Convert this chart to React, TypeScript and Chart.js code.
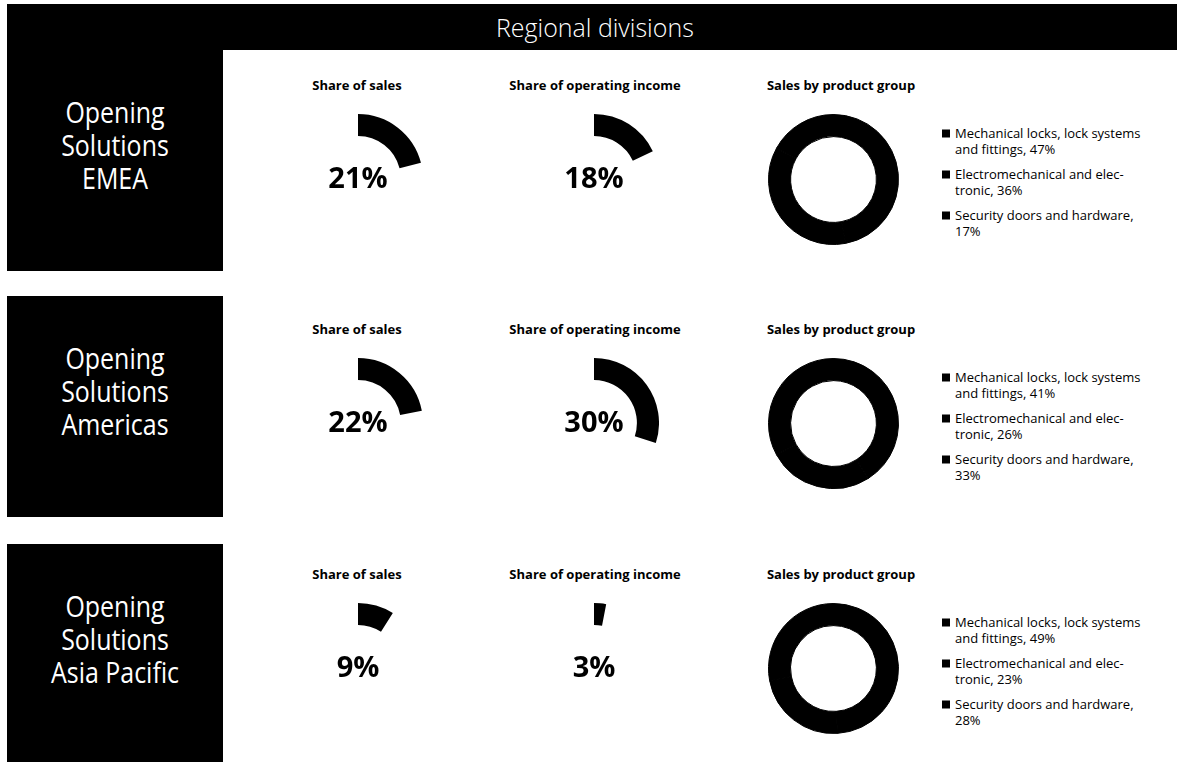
import React, { useEffect, useRef } from "react";
import { Chart, registerables } from "chart.js";

Chart.register(...registerables);

// ---- data ----
const pageTitle = "Regional divisions";
const divisionLines = [
  ["Opening", "Solutions", "EMEA"],
  ["Opening", "Solutions", "Americas"],
  ["Opening", "Solutions", "Asia Pacific"],
];
const panelTitles = ["Share of sales", "Share of operating income", "Sales by product group"];
const salesShare = [21, 22, 9];
const incomeShare = [18, 30, 3];
const productGroups = [
  "Mechanical locks, lock systems and fittings",
  "Electromechanical and elec\u00ADtronic",
  "Security doors and hardware",
];
const productSalesEMEA = [47, 36, 17];
const productSalesAmericas = [41, 26, 33];
const productSalesAsiaPacific = [49, 23, 28];
const productSales = [productSalesEMEA, productSalesAmericas, productSalesAsiaPacific];

// ---- layout ----
const FONT = '"Open Sans", "Noto Sans", sans-serif';
const R = 65;
const rowBoxTop = [50, 296, 544];
const rowCenterY = [179, 423, 668];
const gaugeX = [358, 594];
const donutX = 833;
const titleX = [357, 595, 841];

type RingProps = {
  values: number[];
  colors: string[];
  border: number;
  label?: string;
  cx: number;
  cy: number;
};

function RingChart({ values, colors, border, label, cx, cy }: RingProps) {
  const ref = useRef<HTMLCanvasElement>(null);
  useEffect(() => {
    if (!ref.current) return;
    const labelPlugin = {
      id: "centerLabel",
      afterDraw(chart: any) {
        if (!label) return;
        const arc: any = chart.getDatasetMeta(0).data[0];
        const ctx = chart.ctx;
        ctx.save();
        ctx.font = `bold 29px ${FONT}`;
        ctx.fillStyle = "#000";
        ctx.textAlign = "center";
        ctx.textBaseline = "alphabetic";
        ctx.fillText(label, arc.x, arc.y + 9.4);
        ctx.restore();
      },
    };
    const chart = new Chart(ref.current, {
      type: "doughnut",
      data: {
        labels: values.map((_, i) => String(i)),
        datasets: [
          {
            data: values,
            backgroundColor: colors,
            borderColor: colors,
            borderWidth: border,
            hoverOffset: 0,
          },
        ],
      },
      options: {
        animation: false,
        responsive: true,
        maintainAspectRatio: false,
        cutout: "66%",
        events: [],
        layout: { padding: 0 },
        plugins: { legend: { display: false }, tooltip: { enabled: false } },
      },
      plugins: [labelPlugin],
    } as any);
    return () => chart.destroy();
  }, []);
  const size = 2 * R + border;
  return (
    <div style={{ position: "absolute", left: cx - size / 2, top: cy - size / 2, width: size, height: size }}>
      <canvas ref={ref} />
    </div>
  );
}

function Legend({ values, cy }: { values: number[]; cy: number }) {
  return (
    <div
      style={{
        position: "absolute",
        left: 942,
        top: cy + 3,
        transform: "translateY(-50%)",
        fontFamily: FONT,
        fontSize: 13,
        lineHeight: "15.5px",
        color: "#000",
      }}
    >
      {productGroups.map((g, i) => (
        <div key={i} style={{ display: "flex", marginBottom: i < productGroups.length - 1 ? 10 : 0 }}>
          <div style={{ width: 8, height: 8, background: "#000", marginTop: 4, marginRight: 5, flex: "none" }} />
          <div style={{ width: 195 }}>{`${g}, ${values[i]}%`}</div>
        </div>
      ))}
    </div>
  );
}

function Title({ text, x, y }: { text: string; x: number; y: number }) {
  return (
    <div
      style={{
        position: "absolute",
        left: x,
        top: y,
        transform: "translate(-50%, -50%)",
        whiteSpace: "nowrap",
        fontFamily: FONT,
        fontWeight: 700,
        fontSize: 13,
        lineHeight: 1,
        color: "#000",
      }}
    >
      {text}
    </div>
  );
}

export default function App() {
  return (
    <div
      style={{
        position: "absolute",
        left: 0,
        top: 0,
        width: 1178,
        height: 762,
        overflow: "hidden",
        background: "#fff",
        fontFamily: FONT,
      }}
    >
      <div
        style={{
          position: "absolute",
          left: 7,
          top: 4,
          width: 1170,
          height: 46,
          background: "#000",
          color: "#fff",
          textAlign: "center",
          lineHeight: "46px",
          fontSize: 26,
          fontWeight: 300,
        }}
      >
        <span style={{ display: "inline-block", transform: "scaleX(0.96)", paddingLeft: 6 }}>{pageTitle}</span>
      </div>
      {divisionLines.map((lines, r) => {
        const cy = rowCenterY[r];
        return (
          <React.Fragment key={r}>
            <div
              style={{
                position: "absolute",
                left: 7,
                top: rowBoxTop[r],
                width: 216,
                height: 221,
                background: "#000",
              }}
            >
              <div
                style={{
                  position: "absolute",
                  top: 45,
                  left: 0,
                  width: "100%",
                  textAlign: "center",
                  color: "#fff",
                  fontSize: 29,
                  lineHeight: "33px",
                  transform: "scaleX(0.86)",
                  transformOrigin: "center",
                }}
              >
                {lines.map((l, i) => (
                  <React.Fragment key={i}>
                    {i > 0 && <br />}
                    {l}
                  </React.Fragment>
                ))}
              </div>
            </div>
            {panelTitles.map((t, i) => (
              <Title key={i} text={t} x={titleX[i]} y={cy - 94} />
            ))}
            <RingChart
              values={[salesShare[r], 100 - salesShare[r]]}
              colors={["#000", "rgba(0,0,0,0)"]}
              border={0}
              label={`${salesShare[r]}%`}
              cx={gaugeX[0]}
              cy={cy}
            />
            <RingChart
              values={[incomeShare[r], 100 - incomeShare[r]]}
              colors={["#000", "rgba(0,0,0,0)"]}
              border={0}
              label={`${incomeShare[r]}%`}
              cx={gaugeX[1]}
              cy={cy}
            />
            <RingChart
              values={productSales[r]}
              colors={productSales[r].map(() => "#000")}
              border={1}
              cx={donutX}
              cy={cy}
            />
            <Legend values={productSales[r]} cy={cy} />
          </React.Fragment>
        );
      })}
    </div>
  );
}
